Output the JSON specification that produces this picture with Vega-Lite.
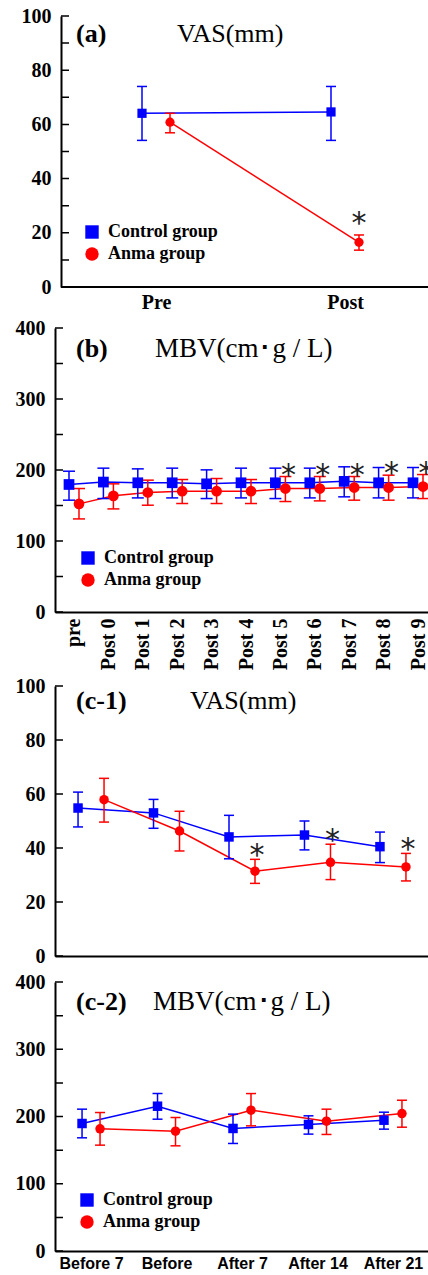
{
  "$schema": "https://vega.github.io/schema/vega-lite/v6.json",
  "background": "white",
  "padding": {"left": 15, "top": 6, "right": 0, "bottom": 0},
  "spacing": 6,
  "resolve": {"scale": {"color": "independent", "shape": "independent", "xOffset": "independent"}, "legend": {"color": "independent", "shape": "independent"}},
  "config": {
    "view": {"stroke": null},
    "axis": {"grid": false, "domainColor": "#000", "domainWidth": 2, "ticks": false, "labelColor": "#000", "labelFont": "Liberation Serif", "labelFontWeight": "bold", "labelFontSize": 20, "title": null},
    "legend": {"labelFont": "Liberation Serif", "labelFontWeight": "bold", "labelFontSize": 18, "labelColor": "#000", "symbolStrokeWidth": 0, "rowPadding": 4, "labelOffset": 7, "padding": 0, "symbolSize": 180, "symbolOpacity": 1}
  },
  "datasets": {
    "tick100": [{"v": 0}, {"v": 10}, {"v": 20}, {"v": 30}, {"v": 40}, {"v": 50}, {"v": 60}, {"v": 70}, {"v": 80}, {"v": 90}, {"v": 100}],
    "tick400": [{"v": 0}, {"v": 50}, {"v": 100}, {"v": 150}, {"v": 200}, {"v": 250}, {"v": 300}, {"v": 350}, {"v": 400}],
    "tickC1": [{"v": 0}, {"v": 20}, {"v": 40}, {"v": 60}, {"v": 80}, {"v": 100}],
    "a": [
      {"time": "Pre", "group": "Control group", "mean": 64.1, "lo": 54.1, "hi": 74.0, "sig": ""},
      {"time": "Post", "group": "Control group", "mean": 64.6, "lo": 54.1, "hi": 74.0, "sig": ""},
      {"time": "Pre", "group": "Anma group", "mean": 60.8, "lo": 56.9, "hi": 64.1, "sig": ""},
      {"time": "Post", "group": "Anma group", "mean": 16.5, "lo": 13.6, "hi": 19.2, "sig": "*"}
    ],
    "b": [
      {"time": "pre", "group": "Control group", "mean": 179.6, "lo": 157.5, "hi": 198.3, "sig": ""},
      {"time": "Post 0", "group": "Control group", "mean": 183.0, "lo": 159.8, "hi": 202.6, "sig": ""},
      {"time": "Post 1", "group": "Control group", "mean": 182.0, "lo": 160.7, "hi": 201.6, "sig": ""},
      {"time": "Post 2", "group": "Control group", "mean": 182.0, "lo": 160.7, "hi": 202.6, "sig": ""},
      {"time": "Post 3", "group": "Control group", "mean": 180.5, "lo": 159.8, "hi": 200.2, "sig": ""},
      {"time": "Post 4", "group": "Control group", "mean": 182.0, "lo": 160.7, "hi": 202.6, "sig": ""},
      {"time": "Post 5", "group": "Control group", "mean": 182.0, "lo": 159.8, "hi": 202.6, "sig": ""},
      {"time": "Post 6", "group": "Control group", "mean": 182.0, "lo": 160.7, "hi": 202.6, "sig": ""},
      {"time": "Post 7", "group": "Control group", "mean": 184.0, "lo": 162.2, "hi": 204.5, "sig": ""},
      {"time": "Post 8", "group": "Control group", "mean": 182.0, "lo": 160.7, "hi": 203.5, "sig": ""},
      {"time": "Post 9", "group": "Control group", "mean": 182.0, "lo": 160.7, "hi": 203.5, "sig": ""},
      {"time": "pre", "group": "Anma group", "mean": 152.3, "lo": 131.1, "hi": 173.9, "sig": ""},
      {"time": "Post 0", "group": "Anma group", "mean": 163.6, "lo": 145.2, "hi": 180.5, "sig": ""},
      {"time": "Post 1", "group": "Anma group", "mean": 168.3, "lo": 150.4, "hi": 185.7, "sig": ""},
      {"time": "Post 2", "group": "Anma group", "mean": 170.1, "lo": 152.8, "hi": 186.6, "sig": ""},
      {"time": "Post 3", "group": "Anma group", "mean": 170.1, "lo": 152.8, "hi": 188.0, "sig": ""},
      {"time": "Post 4", "group": "Anma group", "mean": 170.1, "lo": 152.8, "hi": 186.6, "sig": ""},
      {"time": "Post 5", "group": "Anma group", "mean": 173.9, "lo": 155.6, "hi": 190.8, "sig": "*"},
      {"time": "Post 6", "group": "Anma group", "mean": 173.9, "lo": 156.5, "hi": 190.8, "sig": "*"},
      {"time": "Post 7", "group": "Anma group", "mean": 175.3, "lo": 157.5, "hi": 190.8, "sig": "*"},
      {"time": "Post 8", "group": "Anma group", "mean": 175.3, "lo": 157.5, "hi": 192.7, "sig": "*"},
      {"time": "Post 9", "group": "Anma group", "mean": 176.7, "lo": 159.8, "hi": 193.6, "sig": "*"}
    ],
    "c1": [
      {"time": "Before 7", "group": "Control group", "mean": 54.8, "lo": 47.8, "hi": 60.7, "sig": ""},
      {"time": "Before", "group": "Control group", "mean": 53.0, "lo": 47.3, "hi": 58.0, "sig": ""},
      {"time": "After 7", "group": "Control group", "mean": 44.1, "lo": 36.0, "hi": 52.1, "sig": ""},
      {"time": "After 14", "group": "Control group", "mean": 44.8, "lo": 39.3, "hi": 50.0, "sig": ""},
      {"time": "After 21", "group": "Control group", "mean": 40.5, "lo": 34.6, "hi": 45.9, "sig": ""},
      {"time": "Before 7", "group": "Anma group", "mean": 57.9, "lo": 49.6, "hi": 65.8, "sig": ""},
      {"time": "Before", "group": "Anma group", "mean": 46.3, "lo": 38.9, "hi": 53.6, "sig": ""},
      {"time": "After 7", "group": "Anma group", "mean": 31.4, "lo": 26.9, "hi": 35.8, "sig": "*"},
      {"time": "After 14", "group": "Anma group", "mean": 34.7, "lo": 28.3, "hi": 41.4, "sig": "*"},
      {"time": "After 21", "group": "Anma group", "mean": 33.0, "lo": 27.8, "hi": 38.0, "sig": "*"}
    ],
    "c2": [
      {"time": "Before 7", "group": "Control group", "mean": 189.6, "lo": 168.3, "hi": 210.9, "sig": ""},
      {"time": "Before", "group": "Control group", "mean": 215.3, "lo": 196.0, "hi": 234.2, "sig": ""},
      {"time": "After 7", "group": "Control group", "mean": 182.2, "lo": 159.9, "hi": 203.5, "sig": ""},
      {"time": "After 14", "group": "Control group", "mean": 188.1, "lo": 173.8, "hi": 201.0, "sig": ""},
      {"time": "After 21", "group": "Control group", "mean": 194.5, "lo": 181.2, "hi": 206.4, "sig": ""},
      {"time": "Before 7", "group": "Anma group", "mean": 181.7, "lo": 157.4, "hi": 205.9, "sig": ""},
      {"time": "Before", "group": "Anma group", "mean": 178.2, "lo": 156.4, "hi": 198.5, "sig": ""},
      {"time": "After 7", "group": "Anma group", "mean": 209.4, "lo": 186.1, "hi": 234.1, "sig": ""},
      {"time": "After 14", "group": "Anma group", "mean": 193.1, "lo": 173.3, "hi": 210.9, "sig": ""},
      {"time": "After 21", "group": "Anma group", "mean": 204.4, "lo": 184.1, "hi": 224.2, "sig": ""}
    ]
  },
  "vconcat": [
    {
      "width": 391, "height": 271,
      "layer": [
        {"data": {"name": "tick100"}, "mark": {"type": "rule", "color": "#000", "strokeWidth": 1.5, "strokeDash": [0, 377, 8, 2000]}, "encoding": {"y": {"field": "v", "type": "quantitative", "scale": {"domain": [0, 100], "nice": false}, "axis": {"values": [0, 20, 40, 60, 80, 100], "offset": -6, "labelPadding": 10, "labelOverlap": false, "labelFlush": false, "title": null}}}},
        {"data": {"values": [{}]}, "mark": {"type": "rule", "color": "#000", "strokeWidth": 2, "strokeDash": [385, 2000]}, "encoding": {"y": {"datum": 0, "type": "quantitative"}}},
        {
          "data": {"name": "a"},
          "encoding": {
            "x": {"field": "time", "type": "nominal", "scale": {"type": "point", "domain": ["Pre", "Post"], "padding": 0.5344}, "axis": {"labelAngle": 0, "labelPadding": 5, "domain": false, "title": null}},
            "xOffset": {"field": "group", "type": "nominal", "scale": {"type": "point", "domain": ["Control group", "Anma group"], "range": [-14, 14], "padding": 0}}
          },
          "layer": [
            {"mark": {"type": "line", "strokeWidth": 1.5}, "encoding": {"y": {"field": "mean", "type": "quantitative"}, "stroke": {"field": "group", "type": "nominal", "scale": {"domain": ["Control group", "Anma group"], "range": ["#0000ff", "#ff0000"]}, "legend": null}, "order": {"value": null}}},
            {"mark": {"type": "rule", "strokeWidth": 1.5}, "encoding": {"y": {"field": "lo", "type": "quantitative"}, "y2": {"field": "hi"}, "stroke": {"field": "group", "type": "nominal", "legend": null}}},
            {"mark": {"type": "tick", "orient": "horizontal", "size": 10, "thickness": 1.5, "opacity": 1}, "encoding": {"y": {"field": "lo", "type": "quantitative"}, "fill": {"field": "group", "type": "nominal", "scale": {"domain": ["Control group", "Anma group"], "range": ["#0000ff", "#ff0000"]}, "legend": null}}},
            {"mark": {"type": "tick", "orient": "horizontal", "size": 10, "thickness": 1.5, "opacity": 1}, "encoding": {"y": {"field": "hi", "type": "quantitative"}, "fill": {"field": "group", "type": "nominal", "legend": null}}},
            {"mark": {"type": "point", "filled": true, "opacity": 1, "size": 85}, "encoding": {"y": {"field": "mean", "type": "quantitative"}, "shape": {"field": "group", "type": "nominal", "scale": {"domain": ["Control group", "Anma group"], "range": ["square", "circle"]}, "legend": {"title": null, "orient": "none", "legendX": 28, "legendY": 207, "labelFont": "Liberation Serif", "labelFontWeight": "bold", "labelFontSize": 18}}, "color": {"field": "group", "type": "nominal", "scale": {"domain": ["Control group", "Anma group"], "range": ["#0000ff", "#ff0000"]}, "legend": {"title": null, "orient": "none", "legendX": 28, "legendY": 207, "labelFont": "Liberation Serif", "labelFontWeight": "bold", "labelFontSize": 18}}}},
            {"transform": [{"filter": "datum.sig === '*'"}], "mark": {"type": "text", "font": "DejaVu Sans", "fontSize": 30, "baseline": "middle", "dy": -11, "fill": "#222"}, "encoding": {"y": {"field": "hi", "type": "quantitative"}, "text": {"field": "sig"}}}
          ]
        },
        {"data": {"values": [{}]}, "mark": {"type": "text", "text": "(a)", "font": "Liberation Serif", "fontWeight": "bold", "fontSize": 26, "align": "left", "baseline": "middle", "dx": -80}, "encoding": {"x": {"datum": "Pre", "type": "nominal"}, "y": {"datum": 93.4, "type": "quantitative"}}},
        {"data": {"values": [{}]}, "mark": {"type": "text", "text": "VAS(mm)", "font": "Liberation Serif", "fontSize": 26, "align": "left", "baseline": "middle", "dx": 21}, "encoding": {"x": {"datum": "Pre", "type": "nominal"}, "y": {"datum": 93.4, "type": "quantitative"}}}
      ]
    },
    {
      "width": 382, "height": 284,
      "layer": [
        {"data": {"name": "tick400"}, "mark": {"type": "rule", "color": "#000", "strokeWidth": 1.5, "strokeDash": [0, 374, 8, 2000]}, "encoding": {"y": {"field": "v", "type": "quantitative", "scale": {"domain": [0, 400], "nice": false}, "axis": {"values": [0, 100, 200, 300, 400], "labelPadding": 10, "labelOverlap": false, "labelFlush": false, "title": null}}}},
        {
          "data": {"name": "b"},
          "encoding": {
            "x": {"field": "time", "type": "nominal", "scale": {"type": "point", "domain": ["pre", "Post 0", "Post 1", "Post 2", "Post 3", "Post 4", "Post 5", "Post 6", "Post 7", "Post 8", "Post 9"], "padding": 0.5523}, "axis": {"labelAngle": 270, "labelAlign": "right", "labelBaseline": "middle", "labelPadding": 6, "title": null}},
            "xOffset": {"field": "group", "type": "nominal", "scale": {"type": "point", "domain": ["Control group", "Anma group"], "range": [-5, 5], "padding": 0}}
          },
          "layer": [
            {"mark": {"type": "line", "strokeWidth": 1.5}, "encoding": {"y": {"field": "mean", "type": "quantitative"}, "stroke": {"field": "group", "type": "nominal", "scale": {"domain": ["Control group", "Anma group"], "range": ["#0000ff", "#ff0000"]}, "legend": null}, "order": {"value": null}}},
            {"mark": {"type": "rule", "strokeWidth": 1.5}, "encoding": {"y": {"field": "lo", "type": "quantitative"}, "y2": {"field": "hi"}, "stroke": {"field": "group", "type": "nominal", "legend": null}}},
            {"mark": {"type": "tick", "orient": "horizontal", "size": 12, "thickness": 1.5, "opacity": 1}, "encoding": {"y": {"field": "lo", "type": "quantitative"}, "fill": {"field": "group", "type": "nominal", "scale": {"domain": ["Control group", "Anma group"], "range": ["#0000ff", "#ff0000"]}, "legend": null}}},
            {"mark": {"type": "tick", "orient": "horizontal", "size": 12, "thickness": 1.5, "opacity": 1}, "encoding": {"y": {"field": "hi", "type": "quantitative"}, "fill": {"field": "group", "type": "nominal", "legend": null}}},
            {"mark": {"type": "point", "filled": true, "opacity": 1, "size": 115}, "encoding": {"y": {"field": "mean", "type": "quantitative"}, "shape": {"field": "group", "type": "nominal", "scale": {"domain": ["Control group", "Anma group"], "range": ["square", "circle"]}, "legend": {"title": null, "orient": "none", "legendX": 24, "legendY": 221, "labelFont": "Liberation Serif", "labelFontWeight": "bold", "labelFontSize": 18}}, "color": {"field": "group", "type": "nominal", "scale": {"domain": ["Control group", "Anma group"], "range": ["#0000ff", "#ff0000"]}, "legend": {"title": null, "orient": "none", "legendX": 24, "legendY": 221, "labelFont": "Liberation Serif", "labelFontWeight": "bold", "labelFontSize": 18}}}},
            {"transform": [{"filter": "datum.sig === '*'"}], "mark": {"type": "text", "font": "DejaVu Sans", "fontSize": 30, "baseline": "middle", "dy": -1, "dx": 3, "fill": "#222"}, "encoding": {"y": {"field": "hi", "type": "quantitative"}, "text": {"field": "sig"}}}
          ]
        },
        {"data": {"values": [{}]}, "mark": {"type": "text", "text": "(b)", "font": "Liberation Serif", "fontWeight": "bold", "fontSize": 26, "align": "left", "baseline": "middle", "dx": 2}, "encoding": {"x": {"datum": "pre", "type": "nominal"}, "y": {"datum": 370, "type": "quantitative"}}},
        {"data": {"values": [{}]}, "mark": {"type": "text", "text": "MBV(cm･g / L)", "font": "Liberation Serif", "fontSize": 27, "align": "left", "baseline": "middle", "dx": 81}, "encoding": {"x": {"datum": "pre", "type": "nominal"}, "y": {"datum": 370, "type": "quantitative"}}}
      ]
    },
    {
      "width": 374, "height": 270,
      "layer": [
        {"data": {"name": "tickC1"}, "mark": {"type": "rule", "color": "#000", "strokeWidth": 1.5, "strokeDash": [0, 366, 8, 2000]}, "encoding": {"y": {"field": "v", "type": "quantitative", "scale": {"domain": [0, 100], "nice": false}, "axis": {"values": [0, 20, 40, 60, 80, 100], "labelPadding": 10, "labelOverlap": false, "labelFlush": false, "title": null}}}},
        {
          "data": {"name": "c1"},
          "encoding": {
            "x": {"field": "time", "type": "nominal", "scale": {"type": "point", "domain": ["Before 7", "Before", "After 7", "After 14", "After 21"], "padding": 0.4775}, "axis": {"labels": false, "title": null}},
            "xOffset": {"field": "group", "type": "nominal", "scale": {"type": "point", "domain": ["Control group", "Anma group"], "range": [-13, 13], "padding": 0}}
          },
          "layer": [
            {"mark": {"type": "line", "strokeWidth": 1.5}, "encoding": {"y": {"field": "mean", "type": "quantitative"}, "stroke": {"field": "group", "type": "nominal", "scale": {"domain": ["Control group", "Anma group"], "range": ["#0000ff", "#ff0000"]}, "legend": null}, "order": {"value": null}}},
            {"mark": {"type": "rule", "strokeWidth": 1.5}, "encoding": {"y": {"field": "lo", "type": "quantitative"}, "y2": {"field": "hi"}, "stroke": {"field": "group", "type": "nominal", "legend": null}}},
            {"mark": {"type": "tick", "orient": "horizontal", "size": 10, "thickness": 1.5, "opacity": 1}, "encoding": {"y": {"field": "lo", "type": "quantitative"}, "fill": {"field": "group", "type": "nominal", "scale": {"domain": ["Control group", "Anma group"], "range": ["#0000ff", "#ff0000"]}, "legend": null}}},
            {"mark": {"type": "tick", "orient": "horizontal", "size": 10, "thickness": 1.5, "opacity": 1}, "encoding": {"y": {"field": "hi", "type": "quantitative"}, "fill": {"field": "group", "type": "nominal", "legend": null}}},
            {"mark": {"type": "point", "filled": true, "opacity": 1, "size": 90}, "encoding": {"y": {"field": "mean", "type": "quantitative"}, "shape": {"field": "group", "type": "nominal", "scale": {"domain": ["Control group", "Anma group"], "range": ["square", "circle"]}, "legend": null}, "color": {"field": "group", "type": "nominal", "scale": {"domain": ["Control group", "Anma group"], "range": ["#0000ff", "#ff0000"]}, "legend": null}}},
            {"transform": [{"filter": "datum.sig === '*'"}], "mark": {"type": "text", "font": "DejaVu Sans", "fontSize": 30, "baseline": "middle", "dy": -3, "dx": 2, "fill": "#222"}, "encoding": {"y": {"field": "hi", "type": "quantitative"}, "text": {"field": "sig"}}}
          ]
        },
        {"data": {"values": [{}]}, "mark": {"type": "text", "text": "(c-1)", "font": "Liberation Serif", "fontWeight": "bold", "fontSize": 26, "align": "left", "baseline": "middle", "dx": -15}, "encoding": {"x": {"datum": "Before 7", "type": "nominal"}, "y": {"datum": 94.4, "type": "quantitative"}}},
        {"data": {"values": [{}]}, "mark": {"type": "text", "text": "VAS(mm)", "font": "Liberation Serif", "fontSize": 26, "align": "left", "baseline": "middle", "dx": 99}, "encoding": {"x": {"datum": "Before 7", "type": "nominal"}, "y": {"datum": 94.4, "type": "quantitative"}}}
      ]
    },
    {
      "width": 374, "height": 269,
      "layer": [
        {"data": {"name": "tick400"}, "mark": {"type": "rule", "color": "#000", "strokeWidth": 1.5, "strokeDash": [0, 366, 8, 2000]}, "encoding": {"y": {"field": "v", "type": "quantitative", "scale": {"domain": [0, 400], "nice": false}, "axis": {"values": [0, 100, 200, 300, 400], "labelPadding": 10, "labelOverlap": false, "labelFlush": false, "title": null}}}},
        {
          "data": {"name": "c2"},
          "encoding": {
            "x": {"field": "time", "type": "nominal", "scale": {"type": "point", "domain": ["Before 7", "Before", "After 7", "After 14", "After 21"], "padding": 0.4775}, "axis": {"labelAngle": 0, "labelPadding": 4, "labelFont": "Liberation Sans", "labelFontSize": 16, "title": null}},
            "xOffset": {"field": "group", "type": "nominal", "scale": {"type": "point", "domain": ["Control group", "Anma group"], "range": [-9, 9], "padding": 0}}
          },
          "layer": [
            {"mark": {"type": "line", "strokeWidth": 1.5}, "encoding": {"y": {"field": "mean", "type": "quantitative"}, "stroke": {"field": "group", "type": "nominal", "scale": {"domain": ["Control group", "Anma group"], "range": ["#0000ff", "#ff0000"]}, "legend": null}, "order": {"value": null}}},
            {"mark": {"type": "rule", "strokeWidth": 1.5}, "encoding": {"y": {"field": "lo", "type": "quantitative"}, "y2": {"field": "hi"}, "stroke": {"field": "group", "type": "nominal", "legend": null}}},
            {"mark": {"type": "tick", "orient": "horizontal", "size": 10, "thickness": 1.5, "opacity": 1}, "encoding": {"y": {"field": "lo", "type": "quantitative"}, "fill": {"field": "group", "type": "nominal", "scale": {"domain": ["Control group", "Anma group"], "range": ["#0000ff", "#ff0000"]}, "legend": null}}},
            {"mark": {"type": "tick", "orient": "horizontal", "size": 10, "thickness": 1.5, "opacity": 1}, "encoding": {"y": {"field": "hi", "type": "quantitative"}, "fill": {"field": "group", "type": "nominal", "legend": null}}},
            {"mark": {"type": "point", "filled": true, "opacity": 1, "size": 90}, "encoding": {"y": {"field": "mean", "type": "quantitative"}, "shape": {"field": "group", "type": "nominal", "scale": {"domain": ["Control group", "Anma group"], "range": ["square", "circle"]}, "legend": {"title": null, "orient": "none", "legendX": 23, "legendY": 209, "labelFont": "Liberation Serif", "labelFontWeight": "bold", "labelFontSize": 18}}, "color": {"field": "group", "type": "nominal", "scale": {"domain": ["Control group", "Anma group"], "range": ["#0000ff", "#ff0000"]}, "legend": {"title": null, "orient": "none", "legendX": 23, "legendY": 209, "labelFont": "Liberation Serif", "labelFontWeight": "bold", "labelFontSize": 18}}}}
          ]
        },
        {"data": {"values": [{}]}, "mark": {"type": "text", "text": "(c-2)", "font": "Liberation Serif", "fontWeight": "bold", "fontSize": 26, "align": "left", "baseline": "middle", "dx": -15}, "encoding": {"x": {"datum": "Before 7", "type": "nominal"}, "y": {"datum": 370, "type": "quantitative"}}},
        {"data": {"values": [{}]}, "mark": {"type": "text", "text": "MBV(cm･g / L)", "font": "Liberation Serif", "fontSize": 27, "align": "left", "baseline": "middle", "dx": 62}, "encoding": {"x": {"datum": "Before 7", "type": "nominal"}, "y": {"datum": 370, "type": "quantitative"}}}
      ]
    }
  ]
}
